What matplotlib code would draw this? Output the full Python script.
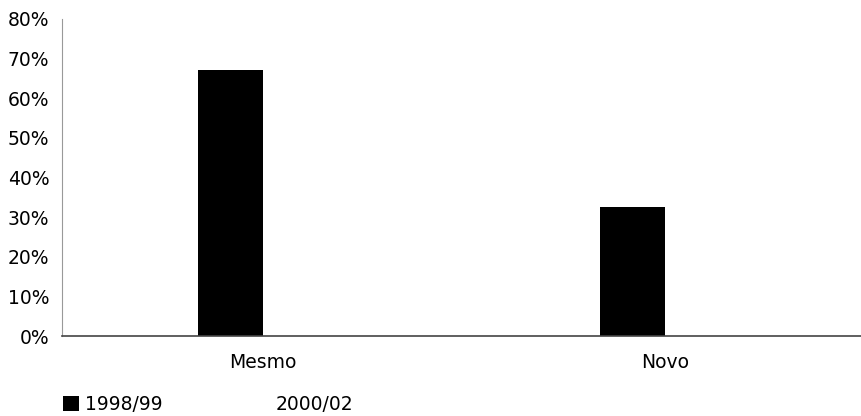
import matplotlib.pyplot as plt
import numpy as np

# Dados
categorias = ['Mesmo', 'Novo']
serie_9899 = [0.672, 0.326]
serie_0002 = [0.0, 0.0]
yticks = np.arange(0, 0.81, 0.1)

fig = plt.figure(figsize=(8.62, 4.16), dpi=100)
ax = fig.add_axes([62 / 862, 80 / 416, 804 / 862, 317 / 416])

x = np.arange(len(categorias))
w = 0.162
b1 = ax.bar(x - w / 2, serie_9899, w, color='black', label='1998/99')
b2 = ax.bar(x + w / 2, serie_0002, w, color='white', label='2000/02')

ax.set_xlim(-0.5, 1.5)
ax.set_ylim(0, 0.8)
ax.set_yticks(yticks)
ax.set_yticklabels([f'{int(round(v * 100))}%' for v in yticks], fontsize=13.5)
ax.set_xticks(x)
ax.set_xticklabels(categorias, fontsize=13.5)
ax.tick_params(axis='both', length=0)
ax.tick_params(axis='x', pad=12)
ax.tick_params(axis='y', pad=9)

for s in ['top', 'right']:
    ax.spines[s].set_visible(False)
ax.spines['left'].set_color('#999999')
ax.spines['bottom'].set_color('#444444')
ax.spines['bottom'].set_linewidth(1.2)

fig.legend(handles=[b1, b2], loc='lower left', bbox_to_anchor=(46 / 862, -0.035),
           ncol=2, frameon=False, fontsize=13.5, handlelength=0.85, handleheight=0.85,
           handletextpad=0.35, columnspacing=4.8)

fig.savefig('out.png', dpi=100)
